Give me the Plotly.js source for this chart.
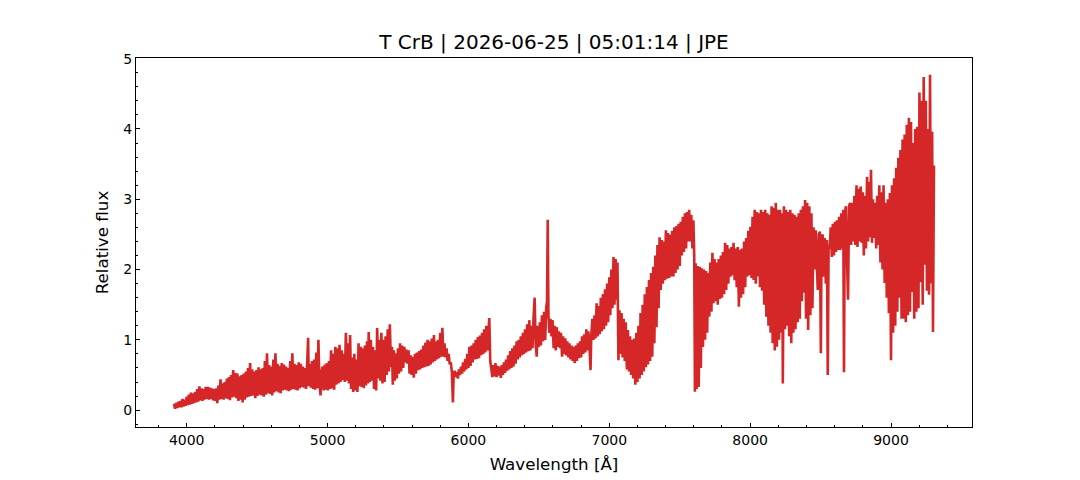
<!DOCTYPE html>
<html>
<head>
<meta charset="utf-8">
<script src="https://cdn.plot.ly/plotly-3.0.1.min.js"></script>
<style>
  body { margin: 0; background: #fff; }
  #spec { width: 1080px; height: 480px; }
</style>
</head>
<body>
<div id="spec"></div>
<script>
// spectrum: upper / lower edge of the noisy band, alternating
const wavelength = [
  3910, 3917, 3925, 3932, 3940, 3947, 3955, 3962, 3970, 3977, 3985, 3992, 4000, 4007, 4015, 4022,
  4030, 4037, 4045, 4052, 4060, 4067, 4075, 4082, 4090, 4097, 4105, 4112, 4120, 4127, 4135, 4142,
  4150, 4157, 4165, 4172, 4180, 4187, 4195, 4202, 4210, 4217, 4225, 4232, 4240, 4247, 4255, 4262,
  4270, 4277, 4285, 4292, 4300, 4307, 4315, 4322, 4330, 4337, 4345, 4352, 4360, 4367, 4375, 4382,
  4390, 4397, 4405, 4412, 4420, 4427, 4435, 4442, 4450, 4457, 4465, 4472, 4480, 4487, 4495, 4502,
  4510, 4517, 4525, 4532, 4540, 4547, 4555, 4562, 4570, 4577, 4585, 4592, 4600, 4607, 4615, 4622,
  4630, 4637, 4645, 4652, 4660, 4667, 4675, 4682, 4690, 4697, 4705, 4712, 4720, 4727, 4735, 4742,
  4750, 4757, 4765, 4772, 4780, 4787, 4795, 4802, 4810, 4817, 4825, 4832, 4840, 4847, 4855, 4862,
  4867, 4875, 4882, 4890, 4897, 4905, 4912, 4920, 4927, 4935, 4942, 4950, 4957, 4965, 4972, 4980,
  4987, 4995, 5002, 5010, 5017, 5025, 5032, 5040, 5047, 5055, 5062, 5070, 5077, 5085, 5092, 5100,
  5107, 5115, 5122, 5130, 5137, 5145, 5152, 5160, 5167, 5175, 5182, 5190, 5197, 5205, 5212, 5220,
  5227, 5235, 5242, 5250, 5257, 5265, 5272, 5280, 5287, 5292, 5300, 5307, 5315, 5322, 5330, 5337,
  5345, 5352, 5360, 5367, 5375, 5382, 5390, 5397, 5405, 5412, 5420, 5427, 5435, 5442, 5450, 5457,
  5463, 5470, 5477, 5485, 5492, 5500, 5507, 5515, 5522, 5530, 5537, 5545, 5552, 5560, 5567, 5575,
  5582, 5590, 5597, 5605, 5612, 5620, 5627, 5635, 5642, 5650, 5657, 5665, 5672, 5680, 5687, 5695,
  5702, 5710, 5717, 5725, 5732, 5740, 5747, 5755, 5762, 5770, 5777, 5785, 5792, 5800, 5807, 5815,
  5822, 5830, 5837, 5845, 5852, 5860, 5867, 5875, 5882, 5890, 5895, 5902, 5910, 5917, 5925, 5932,
  5940, 5947, 5955, 5962, 5970, 5977, 5985, 5992, 6000, 6007, 6015, 6022, 6030, 6037, 6045, 6052,
  6060, 6067, 6075, 6082, 6090, 6097, 6105, 6112, 6120, 6127, 6135, 6142, 6148, 6155, 6162, 6170,
  6177, 6185, 6192, 6200, 6207, 6215, 6222, 6230, 6237, 6245, 6252, 6260, 6267, 6275, 6282, 6290,
  6297, 6305, 6312, 6320, 6327, 6335, 6342, 6350, 6357, 6365, 6372, 6380, 6387, 6395, 6402, 6410,
  6417, 6425, 6432, 6440, 6447, 6455, 6462, 6470, 6477, 6485, 6492, 6500, 6507, 6515, 6522, 6530,
  6537, 6545, 6552, 6558, 6563, 6568, 6575, 6582, 6590, 6597, 6605, 6612, 6620, 6627, 6635, 6642,
  6650, 6657, 6665, 6672, 6680, 6687, 6695, 6702, 6710, 6717, 6725, 6732, 6740, 6747, 6755, 6762,
  6770, 6777, 6785, 6792, 6800, 6807, 6815, 6822, 6830, 6837, 6845, 6852, 6860, 6867, 6872, 6880,
  6887, 6895, 6902, 6910, 6917, 6925, 6932, 6940, 6947, 6955, 6962, 6970, 6977, 6985, 6992, 7000,
  7007, 7015, 7022, 7030, 7037, 7045, 7052, 7058, 7065, 7072, 7080, 7087, 7095, 7102, 7110, 7117,
  7125, 7132, 7140, 7147, 7155, 7162, 7170, 7177, 7185, 7192, 7200, 7207, 7215, 7222, 7230, 7237,
  7245, 7252, 7260, 7267, 7275, 7282, 7290, 7297, 7305, 7312, 7320, 7327, 7335, 7342, 7350, 7357,
  7365, 7372, 7380, 7387, 7395, 7402, 7410, 7417, 7425, 7432, 7440, 7447, 7455, 7462, 7470, 7477,
  7485, 7492, 7500, 7507, 7515, 7522, 7530, 7537, 7545, 7552, 7560, 7567, 7575, 7582, 7590, 7597,
  7603, 7608, 7613, 7620, 7627, 7635, 7642, 7650, 7657, 7665, 7672, 7680, 7687, 7695, 7702, 7710,
  7717, 7725, 7732, 7740, 7747, 7755, 7762, 7770, 7777, 7785, 7792, 7800, 7807, 7815, 7822, 7830,
  7837, 7845, 7852, 7860, 7867, 7875, 7882, 7890, 7897, 7905, 7912, 7920, 7927, 7935, 7942, 7950,
  7957, 7965, 7972, 7980, 7987, 7995, 8002, 8010, 8017, 8025, 8032, 8040, 8047, 8055, 8062, 8070,
  8077, 8085, 8092, 8100, 8107, 8115, 8122, 8130, 8137, 8145, 8152, 8160, 8167, 8175, 8182, 8190,
  8197, 8205, 8212, 8220, 8227, 8232, 8240, 8247, 8255, 8262, 8270, 8277, 8285, 8292, 8300, 8307,
  8315, 8322, 8330, 8337, 8345, 8352, 8360, 8367, 8375, 8382, 8390, 8397, 8405, 8412, 8420, 8427,
  8435, 8442, 8450, 8457, 8465, 8472, 8480, 8487, 8495, 8502, 8507, 8515, 8522, 8530, 8537, 8545,
  8551, 8557, 8565, 8572, 8580, 8587, 8595, 8602, 8610, 8617, 8625, 8632, 8640, 8647, 8655, 8661,
  8666, 8672, 8680, 8687, 8695, 8702, 8710, 8717, 8725, 8732, 8740, 8747, 8755, 8762, 8770, 8777,
  8785, 8792, 8800, 8807, 8815, 8822, 8830, 8837, 8845, 8852, 8858, 8865, 8872, 8880, 8887, 8895,
  8902, 8910, 8917, 8925, 8932, 8940, 8947, 8955, 8962, 8970, 8977, 8985, 8992, 9000, 9007, 9015,
  9022, 9030, 9037, 9045, 9052, 9060, 9067, 9075, 9082, 9090, 9097, 9105, 9112, 9120, 9127, 9135,
  9142, 9150, 9157, 9165, 9172, 9180, 9187, 9195, 9202, 9210, 9217, 9225, 9232, 9240, 9247, 9255,
  9262, 9270, 9277, 9285, 9292, 9298, 9305
];

const flux = [
  0.09, 0.02, 0.10, 0.03, 0.12, 0.04, 0.13, 0.04, 0.16, 0.05, 0.15, 0.06, 0.19, 0.07, 0.22, 0.08,
  0.25, 0.09, 0.24, 0.10, 0.26, 0.11, 0.30, 0.12, 0.34, 0.14, 0.31, 0.13, 0.30, 0.15, 0.33, 0.16,
  0.33, 0.15, 0.32, 0.16, 0.31, 0.14, 0.30, 0.13, 0.31, 0.10, 0.35, 0.15, 0.44, 0.16, 0.38, 0.15,
  0.40, 0.17, 0.45, 0.16, 0.47, 0.14, 0.50, 0.18, 0.57, 0.19, 0.53, 0.17, 0.52, 0.13, 0.48, 0.15,
  0.50, 0.11, 0.52, 0.15, 0.55, 0.18, 0.60, 0.19, 0.67, 0.20, 0.58, 0.21, 0.55, 0.17, 0.57, 0.20,
  0.61, 0.22, 0.58, 0.21, 0.60, 0.19, 0.70, 0.22, 0.81, 0.24, 0.64, 0.23, 0.62, 0.21, 0.72, 0.25,
  0.81, 0.27, 0.66, 0.25, 0.63, 0.24, 0.67, 0.28, 0.65, 0.29, 0.62, 0.28, 0.60, 0.27, 0.70, 0.29,
  0.81, 0.30, 0.66, 0.29, 0.64, 0.28, 0.68, 0.31, 0.66, 0.33, 0.62, 0.32, 0.60, 0.30, 0.65, 1.03,
  0.34, 0.66, 0.32, 0.70, 0.30, 0.72, 0.29, 0.82, 0.31, 1.00, 0.40, 0.21, 0.55, 0.62, 0.28, 0.65,
  0.29, 0.67, 0.28, 0.70, 0.30, 0.85, 0.31, 0.80, 0.29, 0.90, 0.36, 0.88, 0.38, 0.93, 0.40, 0.85,
  0.43, 0.80, 0.40, 1.10, 0.42, 0.95, 0.38, 1.07, 0.30, 0.75, 0.26, 0.80, 0.28, 0.72, 0.26, 0.95,
  0.34, 0.90, 0.33, 0.88, 0.31, 0.92, 0.35, 0.98, 0.38, 1.11, 0.40, 1.00, 0.42, 0.90, 0.30, 0.85,
  0.28, 1.17, 0.45, 1.00, 0.42, 1.10, 0.38, 1.00, 0.40, 1.05, 0.50, 1.15, 0.55, 1.22, 0.61, 0.90,
  0.36, 0.85, 0.42, 0.81, 0.45, 0.88, 0.52, 0.95, 0.55, 0.92, 0.60, 0.90, 0.68, 0.86, 0.66, 0.85,
  0.52, 0.78, 0.50, 0.76, 0.46, 0.80, 0.52, 0.82, 0.57, 0.84, 0.58, 0.86, 0.60, 0.92, 0.61, 0.96,
  0.62, 1.00, 0.63, 0.98, 0.65, 1.02, 0.68, 1.07, 0.70, 0.98, 0.72, 1.00, 0.74, 1.10, 0.76, 1.17,
  0.76, 0.95, 0.75, 0.88, 0.70, 0.80, 0.65, 0.68, 0.55, 0.11, 0.50, 0.56, 0.47, 0.54, 0.45, 0.58,
  0.50, 0.62, 0.52, 0.68, 0.55, 0.73, 0.58, 0.80, 0.60, 0.90, 0.63, 0.92, 0.68, 0.95, 0.72, 1.00,
  0.73, 1.04, 0.74, 1.06, 0.78, 1.10, 0.80, 1.15, 0.82, 1.20, 0.85, 1.25, 1.31, 0.70, 0.58, 0.47,
  0.64, 0.48, 0.67, 0.47, 0.63, 0.49, 0.62, 0.46, 0.64, 0.50, 0.68, 0.53, 0.72, 0.56, 0.78, 0.58,
  0.84, 0.60, 0.88, 0.62, 0.92, 0.66, 0.98, 0.72, 1.00, 0.75, 1.05, 0.78, 1.10, 0.80, 1.15, 0.82,
  1.22, 0.84, 1.28, 0.85, 1.20, 0.88, 1.30, 1.60, 0.95, 0.76, 1.20, 0.90, 1.25, 0.92, 1.35, 0.98,
  1.40, 1.00, 1.45, 1.55, 2.71, 1.35, 1.10, 1.30, 1.05, 1.28, 0.88, 1.20, 0.85, 1.18, 0.90, 1.12,
  0.88, 1.10, 0.76, 1.05, 0.80, 1.02, 0.78, 0.98, 0.75, 0.95, 0.72, 0.92, 0.70, 0.90, 0.67, 0.92,
  0.70, 0.95, 0.74, 0.98, 0.75, 1.05, 0.80, 1.08, 0.82, 1.15, 0.85, 1.12, 0.88, 0.57, 1.05, 1.30,
  1.00, 1.35, 1.02, 1.52, 1.05, 1.48, 1.08, 1.60, 1.12, 1.65, 1.15, 1.72, 1.20, 1.80, 1.25, 1.89,
  1.35, 2.00, 1.45, 2.18, 1.50, 2.15, 1.57, 2.10, 0.71, 1.42, 0.80, 1.38, 0.75, 1.30, 0.70, 1.25,
  0.58, 1.14, 0.55, 1.05, 0.50, 1.00, 0.45, 1.02, 0.36, 1.10, 0.40, 1.20, 0.45, 1.38, 0.50, 1.50,
  0.55, 1.65, 0.61, 1.75, 0.65, 1.85, 0.70, 1.95, 0.76, 2.04, 0.95, 2.20, 1.18, 2.35, 1.45, 2.46,
  1.71, 2.42, 1.80, 2.40, 1.85, 2.56, 1.87, 2.52, 1.88, 2.50, 1.90, 2.55, 1.90, 2.60, 1.95, 2.62,
  2.00, 2.65, 2.05, 2.68, 2.20, 2.75, 2.25, 2.80, 2.30, 2.82, 2.40, 2.85, 2.40, 2.78, 2.30, 2.70,
  2.20, 0.26, 2.09, 0.30, 2.05, 0.33, 2.04, 0.60, 2.02, 0.90, 2.00, 1.00, 1.98, 1.10, 1.95, 1.33,
  2.10, 1.40, 2.24, 1.52, 2.15, 1.55, 2.10, 1.50, 2.15, 1.58, 2.20, 1.60, 2.25, 1.65, 2.38, 1.71,
  2.35, 1.80, 2.30, 1.90, 2.32, 1.92, 2.38, 1.85, 2.30, 1.75, 2.32, 1.47, 2.28, 1.60, 2.30, 1.65,
  2.40, 1.75, 2.45, 1.90, 2.55, 1.92, 2.61, 1.88, 2.75, 1.85, 2.85, 1.80, 2.82, 1.90, 2.80, 1.75,
  2.85, 1.70, 2.82, 1.50, 2.85, 1.33, 2.80, 1.20, 2.78, 1.10, 2.90, 0.95, 2.88, 0.85, 2.95, 0.90,
  2.85, 1.00, 2.85, 1.10, 2.80, 0.38, 2.90, 1.15, 2.85, 1.20, 2.82, 1.05, 2.85, 0.95, 2.80, 1.10,
  2.78, 1.15, 2.75, 1.25, 2.80, 1.30, 2.85, 1.55, 2.90, 1.67, 2.99, 1.30, 2.95, 1.14, 2.90, 1.35,
  2.80, 1.45, 2.60, 2.00, 2.56, 2.05, 1.71, 2.50, 2.54, 0.81, 2.45, 2.50, 1.90, 2.45, 1.80, 2.42,
  0.50, 2.35, 2.30, 2.60, 2.18, 2.65, 2.20, 2.68, 2.25, 2.70, 2.28, 2.75, 2.28, 2.80, 2.30, 2.85,
  0.54, 2.80, 2.90, 2.20, 1.57, 2.90, 2.95, 2.35, 2.95, 2.40, 3.05, 2.35, 3.20, 2.32, 3.15, 2.40,
  3.18, 2.38, 3.10, 2.20, 3.05, 2.30, 3.32, 2.40, 3.25, 2.46, 3.42, 2.38, 3.00, 2.45, 2.95, 2.30,
  3.05, 2.35, 3.20, 2.10, 3.10, 2.00, 3.20, 1.81, 2.95, 1.60, 3.00, 1.38, 3.09, 0.71, 3.20, 1.10,
  3.30, 1.20, 3.45, 1.40, 3.59, 1.60, 3.70, 1.30, 3.85, 1.30, 3.92, 1.25, 4.06, 1.35, 4.16, 1.40,
  4.10, 1.68, 3.80, 1.30, 4.00, 1.40, 4.03, 1.45, 4.52, 1.82, 4.40, 1.50, 4.74, 2.07, 4.40, 1.70,
  4.00, 1.64, 4.77, 1.80, 3.96, 1.11, 3.48
];

const titleText = "T CrB | 2026-06-25 | 05:01:14 | JPE";
const xLabel = "Wavelength [Å]";
const yLabel = "Relative flux";

const trace = [
  {
    x: wavelength,
    y: flux,
    mode: "lines",
    type: "scatter",
    line: { color: "#d62728", width: 2.6 },
    hoverinfo: "skip",
  },
];

const layout = {
  width: 1080,
  height: 480,
  paper_bgcolor: "#fff",
  plot_bgcolor: "#fff",
  showlegend: false,
  font: { family: "DejaVu Sans", size: 14, color: "#000" },
  margin: { l: 136, r: 108, t: 58, b: 53 },
  title: {
    text: titleText,
    font: { family: "DejaVu Sans", size: 20, color: "#000" },
    x: 0.5,
    xref: "paper",
    xanchor: "center",
    y: 0.913,
    yanchor: "middle",
  },
  xaxis: {
    range: [3640, 9575],
    dtick: 1000,
    tick0: 0,
    ticks: "inside",
    ticklen: 4,
    tickcolor: "#000",
    minor: { dtick: 200, tick0: 0, ticks: "inside", ticklen: 2, tickcolor: "#000" },
    showline: true,
    linecolor: "#000",
    linewidth: 1,
    mirror: true,
    showgrid: false,
    zeroline: false,
    tickfont: { size: 14 },
    title: { text: xLabel, font: { size: 16.7 }, standoff: 11 },
  },
  yaxis: {
    range: [-0.24, 5.01],
    dtick: 1,
    tick0: 0,
    ticks: "inside",
    ticklen: 4,
    tickcolor: "#000",
    minor: { dtick: 0.2, tick0: 0, ticks: "inside", ticklen: 2, tickcolor: "#000" },
    showline: true,
    linecolor: "#000",
    linewidth: 1,
    mirror: true,
    showgrid: false,
    zeroline: false,
    tickfont: { size: 14 },
    title: { text: yLabel, font: { size: 16.7 }, standoff: 10 },
  },
};

Plotly.newPlot("spec", trace, layout, { staticPlot: true, displayModeBar: false });
</script>
</body>
</html>
